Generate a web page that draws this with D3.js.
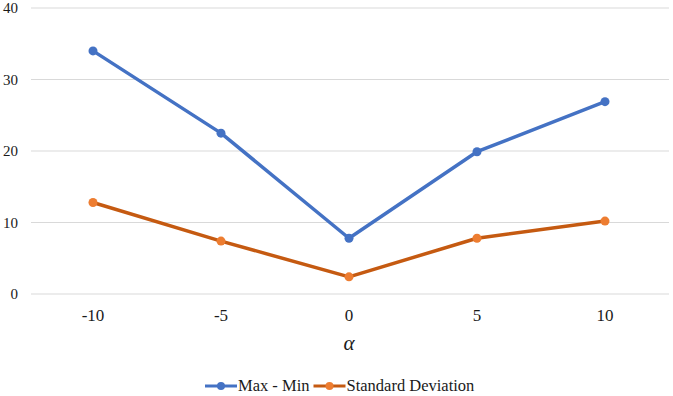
<!DOCTYPE html>
<html>
<head>
<meta charset="utf-8">
<script src="https://cdn.jsdelivr.net/npm/d3@7"></script>
<style>
	body { margin: 0; background: #fff; }
</style>
</head>
<body>
<div id="js_chart"></div>
<script>
'use strict';
const categories = ['-10', '-5', '0', '5', '10'];
const maxMin = [34.0, 22.5, 7.8, 19.9, 26.9];
const stdDev = [12.8, 7.4, 2.4, 7.8, 10.2];
const yTicks = [0, 10, 20, 30, 40];
const seriesNames = ['Max - Min', 'Standard Deviation'];

const fontFamily = 'Liberation Serif';
const textColor = '#1a1a1a';
const width = 673, height = 396;
const margin = { top: 8, right: 4, bottom: 102, left: 31 };
const innerW = width - margin.left - margin.right;
const innerH = height - margin.top - margin.bottom;

const svg = d3.select('#js_chart').append('svg')
	.attr('width', width)
	.attr('height', height);
const g = svg.append('g')
	.attr('transform', 'translate(' + margin.left + ',' + margin.top + ')');

const x = d3.scalePoint().domain(categories).range([-2, innerW]).padding(0.5);
const y = d3.scaleLinear().domain([0, 40]).range([innerH, 0]);

// gridlines
g.selectAll('.grid').data(yTicks).enter().append('line')
	.attr('x1', 0).attr('x2', innerW)
	.attr('y1', d => y(d)).attr('y2', d => y(d))
	.style('stroke', '#d9d9d9').style('stroke-width', 1);

// y labels
g.selectAll('.ylab').data(yTicks).enter().append('text')
	.attr('x', -13).attr('y', d => y(d)).attr('dy', '.35em')
	.attr('text-anchor', 'end')
	.attr('font-family', fontFamily).attr('font-size', 15)
	.attr('fill', textColor)
	.text(d => d);

// x labels
g.selectAll('.xlab').data(categories).enter().append('text')
	.attr('x', d => x(d)).attr('y', innerH + 27)
	.attr('text-anchor', 'middle')
	.attr('font-family', fontFamily).attr('font-size', 17)
	.attr('fill', textColor)
	.text(d => d);

// axis title
g.append('text')
	.attr('x', x('0')).attr('y', innerH + 56)
	.attr('text-anchor', 'middle')
	.attr('font-family', fontFamily).attr('font-size', 21)
	.attr('font-style', 'italic')
	.attr('fill', textColor)
	.text('α');

const series = [
	{ name: seriesNames[0], values: maxMin, line: '#4472c4', dot: '#4472c4' },
	{ name: seriesNames[1], values: stdDev, line: '#c55a11', dot: '#ed7d31' }
];

const lineGen = d3.line()
	.x((d, i) => x(categories[i]))
	.y(d => y(d));

series.forEach(function (s) {
	g.append('path')
		.datum(s.values)
		.attr('d', lineGen)
		.style('fill', 'none')
		.style('stroke', s.line)
		.style('stroke-width', 3.5)
		.style('stroke-linejoin', 'round');
	g.selectAll(null).data(s.values).enter().append('circle')
		.attr('cx', (d, i) => x(categories[i]))
		.attr('cy', d => y(d))
		.attr('r', 4.5)
		.style('fill', s.dot);
});

// legend
const legend = svg.append('g').attr('transform', 'translate(0,386)');
let lx = 205;
series.forEach(function (s) {
	legend.append('line')
		.attr('x1', lx).attr('x2', lx + 32)
		.attr('y1', 0).attr('y2', 0)
		.style('stroke', s.line).style('stroke-width', 3);
	legend.append('circle')
		.attr('cx', lx + 16).attr('cy', 0).attr('r', 4)
		.style('fill', s.dot);
	let t = legend.append('text')
		.attr('x', lx + 33).attr('y', 0).attr('dy', '.33em')
		.attr('font-family', fontFamily).attr('font-size', 16.5)
		.attr('fill', textColor)
		.text(s.name);
	lx += 33 + t.node().getBBox().width + 4;
});
</script>
</body>
</html>
